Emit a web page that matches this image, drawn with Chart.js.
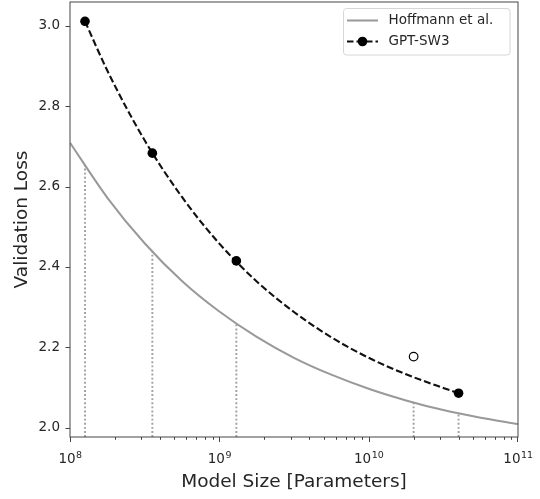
<!DOCTYPE html>
<html>
<head>
<meta charset="utf-8">
<script src="https://cdn.jsdelivr.net/npm/chart.js@4.4.1/dist/chart.umd.min.js"></script>
<style>
  body { margin: 0; background: #fff; }
</style>
</head>
<body>
<canvas id="chart" width="540" height="499"></canvas>
<script>
// ********** data ********************************
// GPT-SW3 model sizes and validation loss
const gptSizes = [1.26e8, 3.56e8, 1.3e9, 2.0e10, 4.0e10];
const gptLoss = [3.011, 2.683, 2.415, 2.177, 2.086];
const gptInFit = [true, true, true, false, true];

// dashed fit through the GPT-SW3 points
const fitSizes = [1.26e8, 1.78e8, 3.16e8, 5.62e8, 1e9, 1.78e9, 3.16e9, 5.62e9, 1e10, 1.78e10, 3.16e10, 4e10];
const fitLoss = [3.011, 2.888, 2.715, 2.574, 2.458, 2.364, 2.288, 2.225, 2.174, 2.133, 2.099, 2.086];

// Hoffmann et al. curve
const hoffSizes = [1e8, 1.78e8, 3.16e8, 5.62e8, 1e9, 1.78e9, 3.16e9, 5.62e9, 1e10, 1.78e10, 3.16e10, 5.62e10, 1e11];
const hoffLoss = [2.709, 2.572, 2.459, 2.365, 2.289, 2.226, 2.174, 2.132, 2.097, 2.068, 2.044, 2.025, 2.009];

// dotted drop lines (size, loss on Hoffmann curve)
const dropSizes = [1.26e8, 3.56e8, 1.3e9, 2.0e10, 4.0e10];
const dropTops = [2.653, 2.44, 2.262, 2.064, 2.037];

// axes
const yTicks = [2.0, 2.2, 2.4, 2.6, 2.8, 3.0];
const yMin = 1.977;
const yMax = 3.059;
const xDecades = [8, 9, 10, 11];

const FONT = "'DejaVu Sans', sans-serif";
Chart.defaults.font.family = FONT;

const toXY = (xs, ys) => xs.map((v, i) => ({ x: v, y: ys[i] }));

// ********** datasets ************
const datasets = [
  {
    label: "GPT-SW3 points",
    data: toXY(gptSizes, gptLoss).filter((p, i) => gptInFit[i]),
    showLine: false,
    pointRadius: 4.8,
    pointBackgroundColor: "#000",
    pointBorderColor: "#000",
    pointBorderWidth: 0,
  },
  {
    label: "held out",
    data: toXY(gptSizes, gptLoss).filter((p, i) => !gptInFit[i]),
    showLine: false,
    pointRadius: 4.3,
    pointBackgroundColor: "#fff",
    pointBorderColor: "#000",
    pointBorderWidth: 1.2,
  },
  {
    label: "GPT-SW3",
    data: toXY(fitSizes, fitLoss),
    showLine: true,
    borderColor: "#111",
    borderWidth: 2.1,
    borderDash: [7, 3],
    pointRadius: 0,
    cubicInterpolationMode: "monotone",
  },
  {
    label: "Hoffmann et al.",
    data: toXY(hoffSizes, hoffLoss),
    showLine: true,
    borderColor: "#999",
    borderWidth: 2,
    pointRadius: 0,
    cubicInterpolationMode: "monotone",
  },
];

dropSizes.forEach((s, i) => {
  datasets.push({
    label: "drop",
    data: [{ x: s, y: yMin }, { x: s, y: dropTops[i] }],
    showLine: true,
    borderColor: "#a0a0a0",
    borderWidth: 1.9,
    borderDash: [1.9, 2.2],
    pointRadius: 0,
  });
});

// ********** frame, ticks, x labels, legend ************
const framePlugin = {
  id: "frame",
  afterDraw(chart) {
    const { ctx, chartArea: a, scales } = chart;
    const x = scales.x;
    const y = scales.y;
    ctx.save();

    const line = (x1, y1, x2, y2) => {
      ctx.beginPath();
      ctx.moveTo(x1, y1);
      ctx.lineTo(x2, y2);
      ctx.stroke();
    };

    // spines
    ctx.strokeStyle = "#444";
    ctx.lineWidth = 1;
    ctx.strokeRect(a.left, a.top, a.right - a.left, a.bottom - a.top);

    // y ticks
    yTicks.forEach((v) => {
      const py = Math.round(y.getPixelForValue(v)) + 0.5;
      line(a.left - 4.5, py, a.left, py);
    });

    // x ticks (major + minor)
    for (let d = 8; d <= 10; d++) {
      for (let m = 1; m <= 9; m++) {
        const px = Math.round(x.getPixelForValue(m * Math.pow(10, d))) + 0.5;
        line(px, a.bottom, px, a.bottom + (m === 1 ? 5 : 2.8));
      }
    }
    const pEnd = Math.round(x.getPixelForValue(1e11)) - 0.5;
    line(pEnd, a.bottom, pEnd, a.bottom + 5);

    // x tick labels 10^n
    ctx.fillStyle = "#262626";
    ctx.textBaseline = "alphabetic";
    ctx.textAlign = "left";
    xDecades.forEach((d) => {
      const px = x.getPixelForValue(Math.pow(10, d));
      ctx.font = "13.5px " + FONT;
      const wBase = ctx.measureText("10").width;
      ctx.font = "9.5px " + FONT;
      const wExp = ctx.measureText(String(d)).width;
      const left = px - (wBase + wExp) / 2;
      ctx.font = "13.5px " + FONT;
      ctx.fillText("10", left, a.bottom + 26);
      ctx.font = "9.5px " + FONT;
      ctx.fillText(String(d), left + wBase + 0.5, a.bottom + 21);
    });

    // legend
    const bx = 343.5, by = 8.5, bw = 166.5, bh = 46.5;
    ctx.beginPath();
    ctx.roundRect(bx, by, bw, bh, 3);
    ctx.fillStyle = "rgba(255,255,255,0.8)";
    ctx.fill();
    ctx.strokeStyle = "#d6d6d6";
    ctx.lineWidth = 1;
    ctx.stroke();

    ctx.strokeStyle = "#999";
    ctx.lineWidth = 2;
    line(347, 20.5, 378, 20.5);

    ctx.strokeStyle = "#111";
    ctx.setLineDash([6.5, 3]);
    line(347, 41.5, 378, 41.5);
    ctx.setLineDash([]);
    ctx.beginPath();
    ctx.arc(362.5, 41.5, 4.8, 0, Math.PI * 2);
    ctx.fillStyle = "#000";
    ctx.fill();

    ctx.fillStyle = "#262626";
    ctx.font = "13.5px " + FONT;
    ctx.textBaseline = "middle";
    ctx.fillText("Hoffmann et al.", 388.5, 20.5);
    ctx.fillText("GPT-SW3", 388.5, 41.5);

    ctx.restore();
  },
};

const ctx = document.getElementById("chart");
const chart = new Chart(ctx, {
  type: "scatter",
  data: { datasets: datasets },
  options: {
    responsive: false,
    animation: false,
    layout: {
      autoPadding: false,
      padding: { top: 2, right: 22, left: 0, bottom: 0 },
    },
    plugins: {
      legend: { display: false },
      tooltip: { enabled: false },
    },
    scales: {
      x: {
        type: "logarithmic",
        min: 1e8,
        max: 1e11,
        grid: { display: false, drawTicks: false },
        border: { display: false },
        ticks: { display: false },
        title: {
          display: true,
          text: "Model Size [Parameters]",
          font: { size: 18.5 },
          color: "#262626",
          padding: { top: 0, bottom: 6 },
        },
        afterFit: (scale) => {
          scale.height = 62;
          scale.paddingLeft = 0;
          scale.paddingRight = 0;
        },
      },
      y: {
        min: yMin,
        max: yMax,
        grid: { display: false, drawTicks: false },
        border: { display: false },
        afterBuildTicks: (scale) => {
          scale.ticks = yTicks.map((v) => ({ value: v }));
        },
        ticks: {
          font: { size: 13.5 },
          color: "#262626",
          padding: 10,
          callback: (v) => v.toFixed(1),
        },
        title: {
          display: true,
          text: "Validation Loss",
          font: { size: 18.5 },
          color: "#262626",
          padding: { top: 11, bottom: 0 },
        },
        afterFit: (scale) => {
          scale.width = 70;
          scale.paddingTop = 0;
          scale.paddingBottom = 0;
        },
      },
    },
  },
  plugins: [framePlugin],
});
</script>
</body>
</html>
